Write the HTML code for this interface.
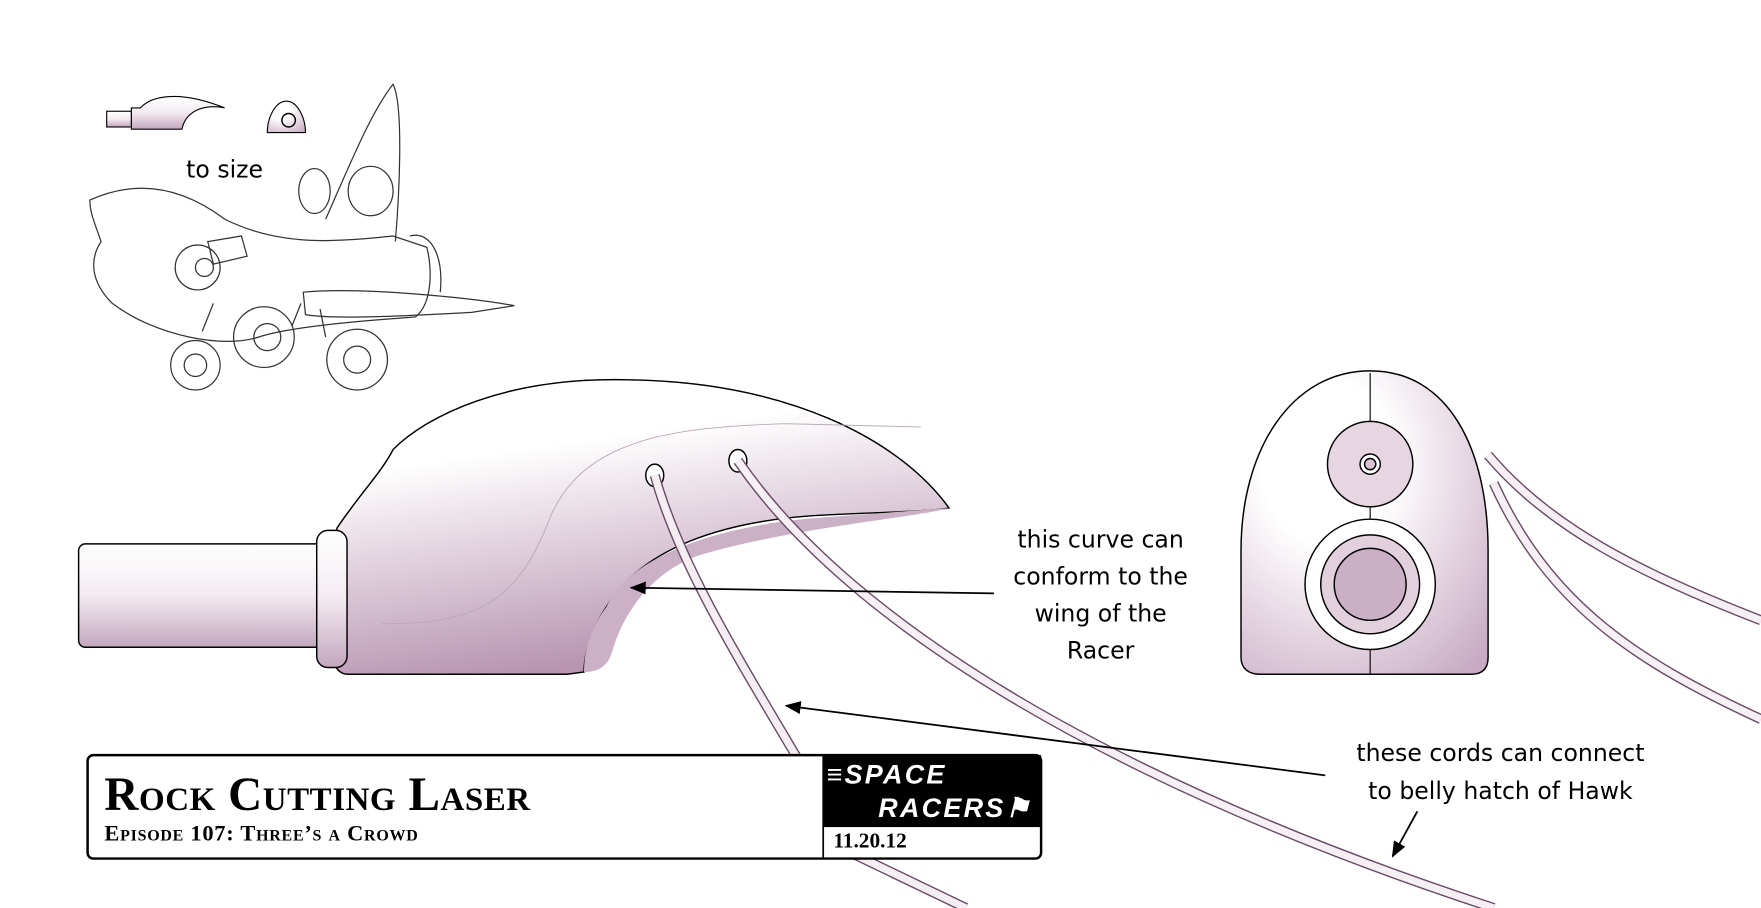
<!DOCTYPE html>
<html><head><meta charset="utf-8"><style>
html,body{margin:0;padding:0;background:#fff;}
svg{display:block;}
</style></head><body>
<svg width="1761" height="908" viewBox="0 0 1568 808" preserveAspectRatio="none" xmlns="http://www.w3.org/2000/svg">
<defs>
<linearGradient id="g1" x1="0" y1="0" x2="0.3" y2="1">
<stop offset="0.3" stop-color="#fff"/><stop offset="1" stop-color="#b894b0"/></linearGradient>
<linearGradient id="g2" x1="0" y1="0" x2="0" y2="1">
<stop offset="0" stop-color="#fff"/><stop offset="0.5" stop-color="#f3ebf1"/><stop offset="1" stop-color="#c4a6bd"/></linearGradient>
<radialGradient id="g3" cx="0.35" cy="0.3" r="0.9">
<stop offset="0.3" stop-color="#fff"/><stop offset="1" stop-color="#c8aac2"/></radialGradient>
<marker id="ah" viewBox="0 0 10 10" refX="9" refY="5" markerWidth="9" markerHeight="9" orient="auto-start-reverse"><path d="M0,1 L10,5 L0,9 z" fill="#000"/></marker>
</defs>
<g fill="none" stroke="#000" stroke-width="1.3">
<path d="M1325,405 C1380,470 1460,510 1568,552" stroke="#6a4a66" stroke-width="9"/>
<path d="M1325,405 C1380,470 1460,510 1568,552" stroke="#f6f0f5" stroke-width="6.5"/>
<path d="M1330,430 C1380,540 1460,590 1568,640" stroke="#6a4a66" stroke-width="9"/>
<path d="M1330,430 C1380,540 1460,590 1568,640" stroke="#f6f0f5" stroke-width="6.5"/>
<!-- tube -->
<rect x="70" y="484" width="225" height="92" rx="6" fill="url(#g2)"/>
<!-- body -->
<path d="M300,470 C320,440 340,420 350,400 C380,370 450,335 560,338 C700,340 800,390 845,452 C830,455 780,456 740,458 C640,462 570,490 540,540 C520,570 520,595 520,598 L505,600 L310,600 C300,600 296,590 296,580 Z" fill="url(#g1)"/>
<path d="M540,540 C560,495 640,466 740,460 L845,452 C820,460 700,470 620,495 C580,510 555,545 545,580 C540,598 525,598 520,598 C520,580 525,560 540,540 Z" fill="#cbb0c6" stroke="none"/>
<path d="M340,555 C420,555 460,540 490,460 C520,390 600,380 700,377 L820,380" stroke="#b8a8b6" stroke-width="0.8"/>
<rect x="282" y="472" width="27" height="122" rx="10" fill="url(#g2)"/>
<ellipse cx="583" cy="423" rx="8" ry="10" fill="#fff"/>
<ellipse cx="657" cy="410" rx="8" ry="10" fill="#fff"/>
<!-- cords on top -->
<path d="M583,423 C610,520 680,620 760,760 L860,808" stroke="#6a4a66" stroke-width="9"/>
<path d="M583,423 C610,520 680,620 760,760 L860,808" stroke="#f4eef3" stroke-width="6.5"/>
<path d="M657,410 C760,560 1000,700 1330,808" stroke="#6a4a66" stroke-width="9"/>
<path d="M657,410 C760,560 1000,700 1330,808" stroke="#f6f0f5" stroke-width="6.5"/>
<!-- right view -->
<path d="M1220,330 C1150,330 1105,400 1105,490 L1105,585 C1105,595 1112,600 1122,600 L1310,600 C1320,600 1325,595 1325,585 L1325,490 C1325,400 1290,330 1220,330 Z" fill="url(#g3)"/>
<line x1="1220" y1="332" x2="1220" y2="600" stroke-width="1"/>
<circle cx="1220" cy="413" r="38" fill="#e6d6e2"/>
<circle cx="1220" cy="413" r="9" fill="#fff"/>
<circle cx="1220" cy="413" r="5" fill="#d8c4d4"/>
<circle cx="1220" cy="520" r="58" fill="#fff"/>
<circle cx="1220" cy="520" r="44" fill="#e2d0dc"/>
<circle cx="1220" cy="520" r="32" fill="#cbb0c5"/>
<!-- arrows -->
<line x1="885" y1="528" x2="562" y2="523" marker-end="url(#ah)" stroke-width="1.6"/>
<line x1="1180" y1="690" x2="700" y2="628" marker-end="url(#ah)" stroke-width="1.6"/>
<line x1="1262" y1="722" x2="1240" y2="762" marker-end="url(#ah)" stroke-width="1.6"/>
<!-- small icons -->
<rect x="95" y="99" width="22" height="14" fill="url(#g2)" stroke-width="1"/>
<path d="M117,96 L125,96 C135,85 160,80 200,96 C180,92 165,100 162,115 L117,115 Z" fill="url(#g2)" stroke-width="1"/>
<path d="M255,90 C245,90 238,105 238,118 L272,118 C272,105 265,90 255,90 Z" fill="url(#g3)" stroke-width="1"/>
<circle cx="257" cy="107" r="6"/>
<!-- plane sketch -->
<g stroke="#333" stroke-width="1.1">
<path d="M80,178 C120,160 160,165 200,195 C250,220 300,215 350,210 L380,220 C385,240 385,270 370,282 C330,285 260,290 230,300 C200,310 140,300 100,270 C80,250 80,230 90,215 C85,200 80,190 80,178 Z"/>
<path d="M290,195 C310,150 330,100 350,75 C360,95 355,180 352,215"/>
<ellipse cx="280" cy="170" rx="14" ry="20"/><ellipse cx="330" cy="170" rx="20" ry="22"/>
<path d="M270,260 C320,255 420,265 458,272 L420,278 C380,280 300,285 272,280 Z"/>
<path d="M365,210 C385,205 395,230 392,260"/>
<circle cx="176" cy="238" r="20"/><circle cx="182" cy="238" r="8"/>
<path d="M185,215 L215,210 L220,228 L190,235 Z"/>
<circle cx="174" cy="325" r="22"/><circle cx="174" cy="325" r="10"/>
<circle cx="235" cy="300" r="27"/><circle cx="238" cy="300" r="12"/>
<circle cx="318" cy="320" r="27"/><circle cx="318" cy="320" r="12"/>
<path d="M180,295 L190,270 M260,290 L268,270 M290,300 L285,275"/>
</g>
<!-- title box -->
<rect x="78" y="672" width="849" height="92" rx="5" fill="#fff" stroke-width="2.2"/>
<rect x="733" y="672" width="194" height="64" fill="#000" stroke="none"/>
<line x1="733" y1="672" x2="733" y2="764" stroke-width="1.5"/>
</g>
<g font-family="DejaVu Sans, sans-serif" font-size="21" fill="#000" text-anchor="middle">
<text x="200" y="158">to size</text>
<text x="980" y="487">this curve can</text>
<text x="980" y="520">conform to the</text>
<text x="980" y="553">wing of the</text>
<text x="980" y="586">Racer</text>
<text x="1336" y="677">these cords can connect</text>
<text x="1336" y="711">to belly hatch of Hawk</text>
</g>
<g font-family="Liberation Serif, serif" fill="#000">
<text x="93" y="721" font-size="42" font-weight="bold" font-variant="small-caps" textLength="379">Rock Cutting Laser</text>
<text x="93" y="748" font-size="20" font-weight="bold" font-variant="small-caps" textLength="279">Episode 107: Three’s a Crowd</text>
<text x="742" y="754" font-size="19" font-weight="bold">11.20.12</text>
</g>
<g font-family="Liberation Sans, sans-serif" font-style="italic" font-weight="bold" fill="#fff" font-size="24">
<text x="736" y="697" letter-spacing="2">≡SPACE</text>
<text x="782" y="727" letter-spacing="2">RACERS⚑</text>
</g>
</svg>
</body></html>
